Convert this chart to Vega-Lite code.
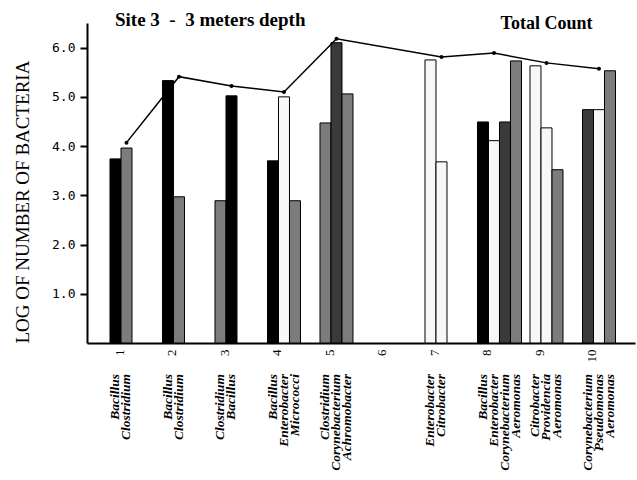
{
  "$schema": "https://vega.github.io/schema/vega-lite/v6.json",
  "width": 548,
  "height": 320,
  "autosize": {"type": "none"},
  "padding": {"left": 87, "top": 23, "right": 2, "bottom": 137},
  "background": "white",
  "title": {"text": "Site 3 \u00a0-\u00a0 3 meters depth", "anchor": "start", "frame": "group", "dx": 28, "offset": -15, "font": "Liberation Serif", "fontSize": 19, "fontWeight": "bold", "color": "black"},
  "datasets": {
    "bars": [
      {"group": "1", "order": 1, "genus": "Bacillus", "value": 3.74},
      {"group": "1", "order": 2, "genus": "Clostridium", "value": 3.96},
      {"group": "2", "order": 1, "genus": "Bacillus", "value": 5.33},
      {"group": "2", "order": 2, "genus": "Clostridium", "value": 2.97},
      {"group": "3", "order": 1, "genus": "Clostridium", "value": 2.89},
      {"group": "3", "order": 2, "genus": "Bacillus", "value": 5.02},
      {"group": "4", "order": 1, "genus": "Bacillus", "value": 3.70},
      {"group": "4", "order": 2, "genus": "Enterobacter", "value": 5.00},
      {"group": "4", "order": 3, "genus": "Micrococci", "value": 2.89},
      {"group": "5", "order": 1, "genus": "Clostridium", "value": 4.47},
      {"group": "5", "order": 2, "genus": "Corynebacterium", "value": 6.10},
      {"group": "5", "order": 3, "genus": "Achromobacter", "value": 5.06},
      {"group": "7", "order": 1, "genus": "Enterobacter", "value": 5.75},
      {"group": "7", "order": 2, "genus": "Citrobacter", "value": 3.68},
      {"group": "8", "order": 1, "genus": "Bacillus", "value": 4.49},
      {"group": "8", "order": 2, "genus": "Enterobacter", "value": 4.11},
      {"group": "8", "order": 3, "genus": "Corynebacterium", "value": 4.49},
      {"group": "8", "order": 4, "genus": "Aeromonas", "value": 5.73},
      {"group": "9", "order": 1, "genus": "Citrobacter", "value": 5.63},
      {"group": "9", "order": 2, "genus": "Providencia", "value": 4.37},
      {"group": "9", "order": 3, "genus": "Aeromonas", "value": 3.52},
      {"group": "10", "order": 1, "genus": "Corynebacterium", "value": 4.74},
      {"group": "10", "order": 2, "genus": "Pseudomonas", "value": 4.74},
      {"group": "10", "order": 3, "genus": "Aeromonas", "value": 5.53}
    ],
    "total": [
      {"group": "1", "total": 4.07},
      {"group": "2", "total": 5.41},
      {"group": "3", "total": 5.22},
      {"group": "4", "total": 5.10},
      {"group": "5", "total": 6.18},
      {"group": "7", "total": 5.81},
      {"group": "8", "total": 5.89},
      {"group": "9", "total": 5.69},
      {"group": "10", "total": 5.57}
    ]
  },
  "layer": [
    {
      "data": {"name": "bars"},
      "mark": {"type": "bar", "stroke": "black", "strokeWidth": 1},
      "encoding": {
        "x": {
          "field": "group", "type": "nominal",
          "scale": {"domain": ["1","2","3","4","5","6","7","8","9","10"], "paddingInner": 0.162, "paddingOuter": 0.3, "align": 0.73},
          "axis": {"title": null, "ticks": false, "domainWidth": 2, "domainColor": "black", "labelAngle": -90, "labelAlign": "right", "labelBaseline": "middle", "labelFont": "Liberation Serif", "labelFontSize": 13, "labelColor": "black", "labelPadding": 6, "labelOffset": -12}
        },
        "xOffset": {"field": "order", "type": "ordinal", "scale": {"domain": [1, 2, 3, 4], "paddingInner": 0, "paddingOuter": 0}},
        "y": {
          "field": "value", "type": "quantitative",
          "scale": {"domain": [0, 6.5], "nice": false, "zero": true},
          "axis": {"title": "LOG OF NUMBER OF BACTERIA", "values": [1, 2, 3, 4, 5, 6], "format": ".1f", "grid": false, "domainWidth": 2, "domainColor": "black", "tickColor": "black", "tickWidth": 2, "tickSize": 7, "labelFont": "DejaVu Sans Mono", "labelFontSize": 13, "labelColor": "black", "labelPadding": 5, "titleFont": "Liberation Serif", "titleFontSize": 19, "titleFontWeight": "normal", "titleColor": "black", "titleAnchor": "start", "titlePadding": 19}
        },
        "color": {
          "field": "genus", "type": "nominal", "legend": null,
          "scale": {
            "domain": ["Bacillus", "Clostridium", "Enterobacter", "Micrococci", "Corynebacterium", "Achromobacter", "Citrobacter", "Aeromonas", "Providencia", "Pseudomonas"],
            "range": ["#000000", "#7c7c7c", "#f7f7f7", "#7c7c7c", "#3a3a3a", "#7c7c7c", "#f7f7f7", "#7c7c7c", "#f7f7f7", "#f7f7f7"]
          }
        }
      }
    },
    {
      "data": {"name": "bars"},
      "mark": {"type": "text", "angle": 270, "align": "right", "baseline": "middle", "font": "Liberation Serif", "fontSize": 13.5, "fontStyle": "italic", "fontWeight": "bold", "color": "black"},
      "encoding": {
        "x": {"field": "group", "type": "nominal"},
        "xOffset": {"field": "order", "type": "ordinal"},
        "y": {"datum": -0.63, "type": "quantitative"},
        "text": {"field": "genus"}
      }
    },
    {
      "data": {"name": "total"},
      "mark": {"type": "line", "color": "black", "strokeWidth": 1.5},
      "encoding": {
        "x": {"field": "group", "type": "nominal"},
        "xOffset": {"datum": 2, "type": "ordinal"},
        "y": {"field": "total", "type": "quantitative"}
      }
    },
    {
      "data": {"name": "total"},
      "mark": {"type": "point", "filled": true, "color": "black", "size": 16, "opacity": 1},
      "encoding": {
        "x": {"field": "group", "type": "nominal"},
        "xOffset": {"datum": 2, "type": "ordinal"},
        "y": {"field": "total", "type": "quantitative"}
      }
    },
    {
      "data": {"values": [{"label": "Total Count"}]},
      "mark": {"type": "text", "align": "center", "baseline": "alphabetic", "font": "Liberation Serif", "fontSize": 18, "fontWeight": "bold", "color": "black"},
      "encoding": {
        "x": {"datum": "9", "type": "nominal"},
        "xOffset": {"datum": 2, "type": "ordinal"},
        "y": {"datum": 6.38, "type": "quantitative"},
        "text": {"field": "label"}
      }
    }
  ],
  "config": {"view": {"stroke": null}}
}
